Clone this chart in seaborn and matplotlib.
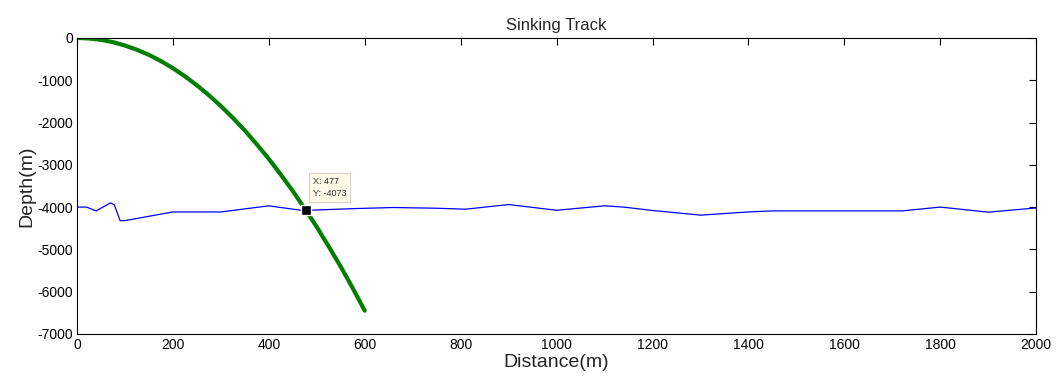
import matplotlib
matplotlib.use("Agg")
import matplotlib.pyplot as plt
import seaborn as sns
import pandas as pd

# Sinking track (green)
track_x = [0, 25, 50, 75, 100, 125, 150, 175, 200, 225, 250, 275, 300, 325, 350, 375,
           400, 425, 450, 477, 500, 525, 550, 575, 600]
track_y = [0, -12, -45, -100, -180, -280, -400, -548, -715, -906, -1120, -1354, -1610,
           -1890, -2190, -2517, -2860, -3233, -3620, -4073, -4470, -4934, -5410, -5918, -6450]

# Sea bottom profile (blue)
bottom_x = [0, 20, 40, 70, 78, 90, 100, 200, 300, 400, 470, 580, 660, 750, 810, 900,
            1000, 1100, 1140, 1200, 1300, 1400, 1450, 1600, 1720, 1800, 1900, 2000]
bottom_y = [-4000, -4000, -4090, -3900, -3950, -4320, -4320, -4115, -4115, -3970, -4080,
            -4035, -4010, -4027, -4050, -3940, -4075, -3970, -4000, -4080, -4190, -4115,
            -4090, -4090, -4090, -4000, -4120, -4020]

tip_x, tip_y = 477, -4073
xticks = [0, 200, 400, 600, 800, 1000, 1200, 1400, 1600, 1800, 2000]
yticks = [0, -1000, -2000, -3000, -4000, -5000, -6000, -7000]

sns.set_style("white")
plt.rcParams['font.family'] = ['Liberation Sans', 'DejaVu Sans']
plt.rcParams['axes.unicode_minus'] = False

fig = plt.figure(figsize=(10.6, 3.83), dpi=100)
ax = fig.add_axes([0.0726, 0.128, 0.905, 0.773])

df_b = pd.DataFrame({"x": bottom_x, "y": bottom_y})
df_t = pd.DataFrame({"x": track_x, "y": track_y})
sns.lineplot(data=df_b, x="x", y="y", ax=ax, color="#0000ff", linewidth=0.9, sort=False)
sns.lineplot(data=df_t, x="x", y="y", ax=ax, color="#007f00", linewidth=3.0, sort=False,
             solid_capstyle="round", solid_joinstyle="round")

ax.plot([tip_x], [tip_y], marker="s", color="black", markersize=6.5,
        markeredgecolor="white", markeredgewidth=1, zorder=5)
ax.annotate(f"X: {tip_x}\nY: {tip_y}", xy=(tip_x, tip_y), xytext=(7, 12),
            textcoords="offset pixels", ha="left", va="bottom", fontsize=6.5,
            color="#333333", linespacing=1.5,
            bbox=dict(boxstyle="square,pad=0.45", fc="#fffbe8", ec="#d8d0c0", lw=0.8),
            zorder=6)

ax.set_xlim(0, 2000)
ax.set_ylim(-7000, 0)
ax.set_xticks(xticks)
ax.set_yticks(yticks)
ax.tick_params(direction="in", length=5, width=0.8, top=True, right=True,
               labelsize=10, colors="black", pad=3)
for s in ax.spines.values():
    s.set_color("black")
    s.set_linewidth(0.8)

ax.set_title("Sinking Track", fontsize=12, pad=6)
ax.set_xlabel("Distance(m)", fontsize=14, labelpad=1)
ax.set_ylabel("Depth(m)", fontsize=14, labelpad=1)

fig.savefig("out.png", dpi=100)
